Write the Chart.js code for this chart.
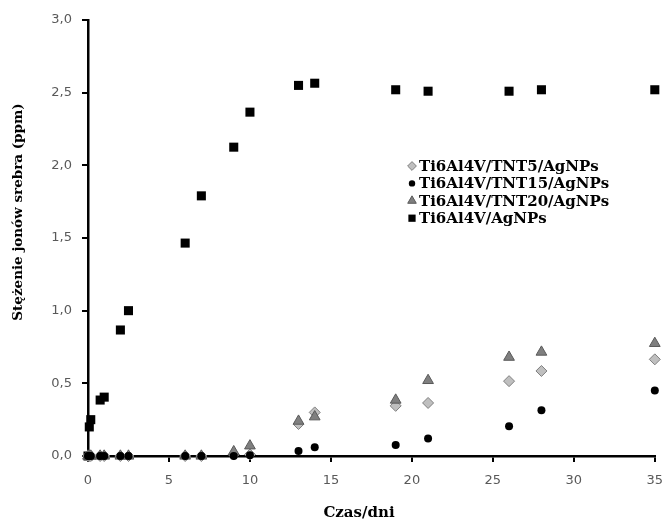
<!DOCTYPE html>
<html>
<head>
<meta charset="utf-8">
<script src="https://cdn.jsdelivr.net/npm/chart.js@4/dist/chart.umd.min.js"></script>
<style>
    html, body { margin: 0; padding: 0; background: #fff; }
    #wrap { width: 662px; height: 519px; }
</style>
</head>
<body>
<div id="wrap"><canvas id="chart"></canvas></div>
<script>
// czas w dniach
const days = [0, 0.08, 0.17, 0.75, 1, 2, 2.5, 6, 7, 9, 10, 13, 14, 19, 21, 26, 28, 35];

const tnt5 = [0, 0, 0, 0, 0, 0, 0, 0, 0, 0.01, 0.01, 0.22, 0.30, 0.345, 0.365, 0.515, 0.585, 0.665];
const tnt15 = [0, 0, 0, 0, 0, 0, 0, 0, 0, 0, 0.005, 0.035, 0.06, 0.075, 0.12, 0.205, 0.315, 0.45];
const tnt20 = [0, 0, 0, 0, 0, 0, 0, 0, 0, 0.03, 0.07, 0.24, 0.27, 0.385, 0.52, 0.68, 0.715, 0.775];
const agnps = [0, 0.20, 0.25, 0.385, 0.405, 0.867, 1.00, 1.465, 1.79, 2.125, 2.366, 2.55, 2.565, 2.52, 2.51, 2.51, 2.52, 2.52];

const seriesNames = ['Ti6Al4V/TNT5/AgNPs', 'Ti6Al4V/TNT15/AgNPs', 'Ti6Al4V/TNT20/AgNPs', 'Ti6Al4V/AgNPs'];

const xTicks = [0, 5, 10, 15, 20, 25, 30, 35];
const yTicks = [0, 0.5, 1.0, 1.5, 2.0, 2.5, 3.0];

const xTitle = 'Czas/dni';
const yTitle = 'Stężenie jonów srebra (ppm)';

const tickFont = { family: 'DejaVu Sans', size: 13 };

function toPoints(values) {
    return values.map((v, i) => ({ x: days[i], y: v }));
}

function buildDatasets() {
    return [
        {
            label: seriesNames[0],
            data: toPoints(tnt5),
            pointStyle: 'rectRot',
            pointRadius: 5.5,
            backgroundColor: '#bfbfbf',
            borderColor: '#7f7f7f',
            borderWidth: 1,
            order: 2
        },
        {
            label: seriesNames[1],
            data: toPoints(tnt15),
            pointStyle: 'circle',
            pointRadius: 4,
            backgroundColor: '#000',
            borderColor: '#000',
            borderWidth: 0,
            order: 0
        },
        {
            label: seriesNames[2],
            data: toPoints(tnt20),
            pointStyle: 'triangle',
            pointRadius: 6.2,
            backgroundColor: '#7f7f7f',
            borderColor: '#595959',
            borderWidth: 1,
            order: 1
        },
        {
            label: seriesNames[3],
            data: toPoints(agnps),
            pointStyle: 'rect',
            pointRadius: 6.4,
            backgroundColor: '#000',
            borderColor: '#000',
            borderWidth: 0,
            order: 3
        }
    ];
}

// legenda w obszarze wykresu + tytuly osi
const innerLegend = {
    id: 'innerLegend',
    afterDraw(chart) {
        const ctx = chart.ctx;
        const x = 412;
        const y0 = 166;
        const step = 17.4;
        const draw = Chart.helpers && Chart.helpers.drawPoint;
        ctx.save();
        chart.data.datasets.forEach((ds, i) => {
            const y = y0 + i * step;
            ctx.fillStyle = ds.backgroundColor;
            ctx.strokeStyle = ds.borderColor;
            ctx.lineWidth = ds.borderWidth;
            if (draw) {
                draw(ctx, { pointStyle: ds.pointStyle, radius: ds.pointRadius * 0.8, rotation: 0, borderWidth: ds.borderWidth }, x, y);
            }
            ctx.fillStyle = '#000';
            ctx.font = 'bold 15px "DejaVu Serif"';
            ctx.textBaseline = 'middle';
            ctx.textAlign = 'left';
            ctx.fillText(ds.label, x + 7, y + 1);
        });

        ctx.fillStyle = '#000';
        ctx.textAlign = 'center';
        ctx.textBaseline = 'middle';
        ctx.font = 'bold 15px "DejaVu Serif"';
        ctx.fillText(xTitle, 359, 513);

        ctx.translate(18, 212);
        ctx.rotate(-Math.PI / 2);
        ctx.font = 'bold 13.5px "DejaVu Serif"';
        ctx.fillText(yTitle, 0, 0);
        ctx.restore();
    }
};

function buildOptions() {
    return {
        responsive: true,
        maintainAspectRatio: false,
        animation: false,
        clip: false,
        layout: { padding: { top: 20, right: 7, left: 0, bottom: 0 } },
        plugins: {
            legend: { display: false },
            tooltip: { enabled: false }
        },
        scales: {
            x: {
                type: 'linear',
                min: 0,
                max: 35,
                afterBuildTicks: scale => { scale.ticks = xTicks.map(v => ({ value: v })); },
                afterFit: scale => {
                    scale.height = 63;
                    scale.paddingRight = 0;
                    scale.paddingLeft = 0;
                },
                ticks: {
                    color: '#595959',
                    font: tickFont,
                    padding: 11,
                    maxRotation: 0
                },
                grid: {
                    display: true,
                    drawOnChartArea: false,
                    drawTicks: true,
                    tickLength: 6,
                    color: '#000',
                    lineWidth: 2
                },
                border: { color: '#000', width: 2.5 }
            },
            y: {
                min: 0,
                max: 3,
                afterBuildTicks: scale => { scale.ticks = yTicks.map(v => ({ value: v })); },
                afterFit: scale => {
                    scale.width = 88;
                    scale.paddingTop = 0;
                    scale.paddingBottom = 0;
                },
                ticks: {
                    color: '#595959',
                    font: tickFont,
                    padding: 10,
                    callback: v => v.toFixed(1).replace('.', ',')
                },
                grid: {
                    display: true,
                    drawOnChartArea: false,
                    drawTicks: true,
                    tickLength: 6,
                    color: '#000',
                    lineWidth: 2
                },
                border: { color: '#000', width: 2.5 }
            }
        }
    };
}

document.addEventListener('DOMContentLoaded', () => {
    new Chart(document.getElementById('chart'), {
        type: 'scatter',
        data: { datasets: buildDatasets() },
        options: buildOptions(),
        plugins: [innerLegend]
    });
});
</script>
</body>
</html>
